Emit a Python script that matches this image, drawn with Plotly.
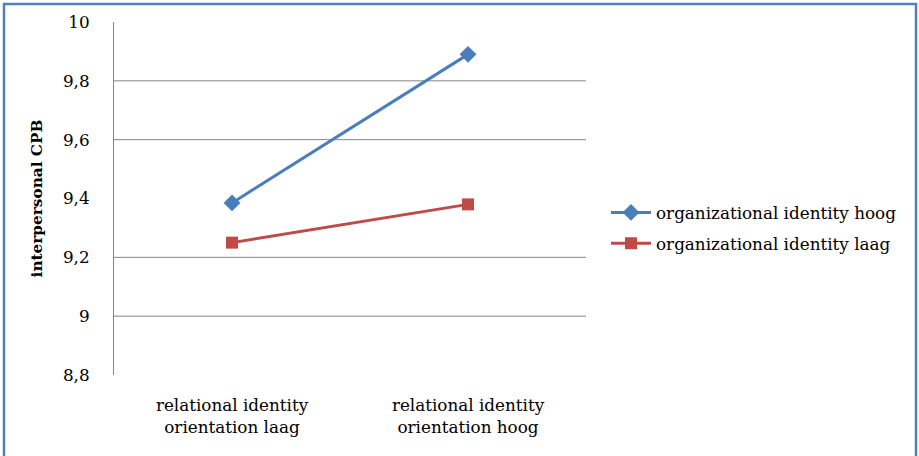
import plotly.graph_objects as go

categories = ["relational identity<br>orientation laag", "relational identity<br>orientation hoog"]
series_names = ["organizational identity hoog", "organizational identity laag"]
hoog_values = [9.385, 9.89]
laag_values = [9.25, 9.38]
tick_values = [8.8, 9.0, 9.2, 9.4, 9.6, 9.8, 10.0]
tick_labels = ["8,8", "9", "9,2", "9,4", "9,6", "9,8", "10"]
grid_values = [9.0, 9.2, 9.6, 9.8]

blue = "#4A7EBB"
red = "#BE4B48"
grid_col = "#868686"
font_family = "DejaVu Serif, Liberation Serif, serif"
fs = 16.8

ml, mr, mt, mb = 114, 333, 22, 81
W, H = 919, 456
pw, ph = W - ml - mr, H - mt - mb

fig = go.Figure()
fig.add_trace(go.Scatter(
    x=categories, y=hoog_values, name=series_names[0], mode="lines+markers",
    legendgroup="a",
    line=dict(color=blue, width=3), marker=dict(symbol="diamond", size=13, color=blue),
))
fig.add_trace(go.Scatter(
    x=categories, y=laag_values, name=series_names[1], mode="lines+markers",
    legendgroup="b",
    line=dict(color=red, width=3), marker=dict(symbol="square", size=12, color=red),
))

shapes = []
for g in grid_values:
    shapes.append(dict(type="line", xref="paper", yref="y", x0=0, x1=1, y0=g, y1=g,
                       line=dict(color=grid_col, width=1), layer="below"))
# outer border of the chart area
shapes.append(dict(type="rect", xref="paper", yref="paper",
                   x0=(4 - ml) / pw, x1=(916 - ml) / pw,
                   y0=(H - mb - 460) / ph, y1=(H - mb - 4) / ph,
                   line=dict(color="#4F81BD", width=2.5)))

fig.update_layout(
    width=W, height=H,
    margin=dict(l=ml, r=mr, t=mt, b=mb),
    paper_bgcolor="white", plot_bgcolor="white",
    separators=", ",
    font=dict(family=font_family, size=fs, color="#000000"),
    showlegend=True,
    legend=dict(x=(606 - ml) / pw, y=(H - mb - 228) / ph, xanchor="left", yanchor="middle",
                font=dict(family=font_family, size=fs), bgcolor="rgba(0,0,0,0)",
                traceorder="grouped", tracegroupgap=6, itemwidth=40),
    shapes=shapes,
    xaxis=dict(range=[-0.5, 1.5], showgrid=False, showline=False, zeroline=False, ticks="",
               tickfont=dict(family=font_family, size=fs), ticklabelstandoff=18),
    yaxis=dict(range=[8.8, 10.0], tickvals=tick_values, ticktext=tick_labels,
               showgrid=False, zeroline=False, showline=True, linecolor=grid_col, linewidth=1,
               ticks="", ticklabelstandoff=20,
               tickfont=dict(family=font_family, size=fs),
               title=dict(text="<b>interpersonal CPB</b>", font=dict(family=font_family, size=15.3),
                          standoff=16)),
)

fig.write_html("out.html")
